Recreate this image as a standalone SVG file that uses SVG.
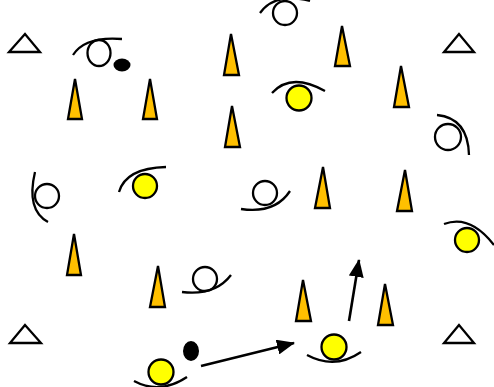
<svg xmlns="http://www.w3.org/2000/svg" width="494" height="387" viewBox="0 0 494 387">
<style>
.mk{fill:#fff;stroke:#000;stroke-width:2.3}
.cone{fill:#FFC000;stroke:#000;stroke-width:2.3;stroke-linejoin:miter}
.opp{fill:#fff;stroke:#000;stroke-width:2.3}
.pl{fill:#FFFF00;stroke:#000;stroke-width:2.3}
.arc{fill:none;stroke:#000;stroke-width:2.3}
.ball{fill:#000}
.conn{fill:none;stroke:#000;stroke-width:2.6}
</style>
<defs>
<marker id="ah" viewBox="0 0 18 15" refX="17" refY="7.5" markerWidth="18" markerHeight="15" markerUnits="userSpaceOnUse" orient="auto">
<path d="M0,0 L18,7.5 L0,15 Z" fill="#000"/>
</marker>
</defs>
<rect width="494" height="387" fill="#fff"/>
<g id="markers">
<polygon class="mk" points="25,34 9,52 40,52"/>
<polygon class="mk" points="459,34 444,52 474,52"/>
<polygon class="mk" points="25,325 10,343 41,343"/>
<polygon class="mk" points="459,325 444,343 474,343"/>
</g>
<g id="cones">
<polygon class="cone" points="75,79 68,119 82,119"/>
<polygon class="cone" points="150,79 143,119 157,119"/>
<polygon class="cone" points="231,34 224,75 239,75"/>
<polygon class="cone" points="232,106 225,147 240,147"/>
<polygon class="cone" points="342,26 335,66 350,66"/>
<polygon class="cone" points="401,66 394,107 409,107"/>
<polygon class="cone" points="323,167 315,208 330,208"/>
<polygon class="cone" points="405,170 397,211 412,211"/>
<polygon class="cone" points="74,234 67,275 81,275"/>
<polygon class="cone" points="158,266 150,307 165,307"/>
<polygon class="cone" points="303,280 296,321 311,321"/>
<polygon class="cone" points="385,284 378,325 393,325"/>
</g>
<g id="player1"><ellipse class="opp" cx="99" cy="53" rx="11.5" ry="13"/><path class="arc" d="M73,55 Q85,36 122,39"/></g>
<g id="ball1"><ellipse class="ball" cx="122" cy="65" rx="8.5" ry="6.5"/></g>
<g id="player2"><circle class="opp" cx="285" cy="13" r="12"/><path class="arc" d="M260,13 Q275,-8 310,1"/></g>
<g id="player3"><circle class="pl" cx="299" cy="98" r="12.5"/><path class="arc" d="M272,93 Q291,72 325,91"/></g>
<g id="player4"><circle class="opp" cx="448" cy="137" r="13"/><path class="arc" d="M437,115 Q468,118 469,155"/></g>
<g id="player5"><circle class="opp" cx="47" cy="196" r="12"/><path class="arc" d="M35,172 Q26,210 48,222"/></g>
<g id="player6"><circle class="pl" cx="145" cy="186" r="12"/><path class="arc" d="M119,192 Q126,168 166,167"/></g>
<g id="player7"><circle class="opp" cx="265" cy="193" r="12"/><path class="arc" d="M241,209 Q275,214 290,191"/></g>
<g id="player8"><circle class="pl" cx="467" cy="240" r="12"/><path class="arc" d="M444,224 Q470,214 494,245"/></g>
<g id="player9"><circle class="opp" cx="205" cy="279" r="12"/><path class="arc" d="M182,292 Q215,296 231,275"/></g>
<g id="player10"><circle class="pl" cx="334" cy="347" r="12.5"/><path class="arc" d="M307,355 Q335,370 361,352"/></g>
<g id="player11"><circle class="pl" cx="161" cy="372" r="12.5"/><path class="arc" d="M134,381 Q160,395 187,377"/></g>
<g id="ball2"><ellipse class="ball" cx="191" cy="351" rx="8" ry="10"/></g>
<g id="connectors">
<line class="conn" x1="201" y1="366" x2="294" y2="343" marker-end="url(#ah)"/>
<line class="conn" x1="349" y1="321" x2="359" y2="260" marker-end="url(#ah)"/>
</g>
</svg>
